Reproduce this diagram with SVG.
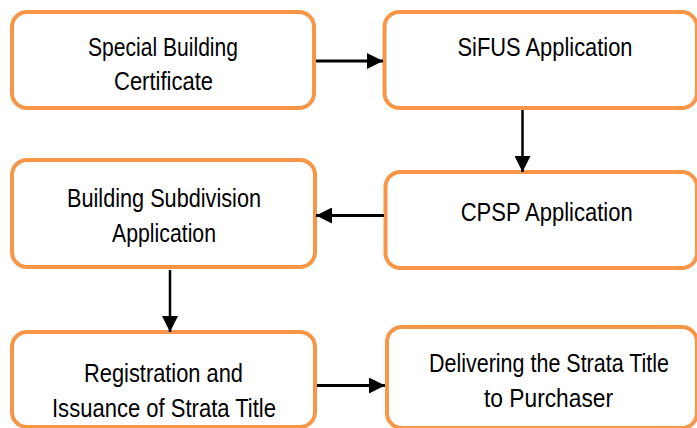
<svg xmlns="http://www.w3.org/2000/svg" width="697" height="428" viewBox="0 0 697 428">
<style>
.box{fill:#fff;stroke:#F79646;stroke-width:4}
.lbl{font-family:"Liberation Sans Narrow","Liberation Sans",Arial,sans-serif;font-size:26px;fill:#000;text-anchor:middle}
.con{stroke:#000;stroke-width:3;fill:none}
.conv{stroke:#000;stroke-width:2.5;fill:none}
</style>
<defs>
<marker id="ah" markerUnits="userSpaceOnUse" markerWidth="16" markerHeight="16" refX="16" refY="8" orient="auto" viewBox="0 0 16 16">
<path d="M0,0 L16,8 L0,16 z" fill="#000"/>
</marker>
</defs>
<rect width="697" height="428" fill="#fff"/>
<g id="n1"><rect class="box" x="12" y="12" width="302" height="96" rx="15"/>
<text class="lbl" x="163" y="56" textLength="150" lengthAdjust="spacingAndGlyphs">Special Building</text>
<text class="lbl" x="163.5" y="90" textLength="99" lengthAdjust="spacingAndGlyphs">Certificate</text></g>
<g id="n2"><rect class="box" x="384.5" y="12" width="312.5" height="96" rx="15"/>
<text class="lbl" x="545" y="56" textLength="175" lengthAdjust="spacingAndGlyphs">SiFUS Application</text></g>
<g id="n3"><rect class="box" x="385.5" y="172" width="311.5" height="96" rx="15"/>
<text class="lbl" x="546.7" y="221" textLength="172" lengthAdjust="spacingAndGlyphs">CPSP Application</text></g>
<g id="n4"><rect class="box" x="12" y="160" width="303" height="107" rx="15"/>
<text class="lbl" x="164" y="207" textLength="194" lengthAdjust="spacingAndGlyphs">Building Subdivision</text>
<text class="lbl" x="164" y="242" textLength="104" lengthAdjust="spacingAndGlyphs">Application</text></g>
<g id="n5"><rect class="box" x="12" y="332" width="303" height="95" rx="15"/>
<text class="lbl" x="163.5" y="381.5" textLength="159" lengthAdjust="spacingAndGlyphs">Registration and</text>
<text class="lbl" x="164" y="417" textLength="224" lengthAdjust="spacingAndGlyphs">Issuance of Strata Title</text></g>
<g id="n6"><rect class="box" x="387" y="327" width="310" height="101" rx="15"/>
<text class="lbl" x="549" y="371.5" textLength="240" lengthAdjust="spacingAndGlyphs">Delivering the Strata Title</text>
<text class="lbl" x="548.5" y="406.5" textLength="129" lengthAdjust="spacingAndGlyphs">to Purchaser</text></g>
<g id="connectors">
<line class="con" x1="316" y1="61" x2="383" y2="61" marker-end="url(#ah)"/>
<line class="conv" x1="522.5" y1="110" x2="522.5" y2="172" marker-end="url(#ah)"/>
<line class="con" x1="384" y1="215.5" x2="316" y2="215.5" marker-end="url(#ah)"/>
<line class="conv" x1="170" y1="270" x2="170" y2="332" marker-end="url(#ah)"/>
<line class="con" x1="317" y1="385.5" x2="385" y2="385.5" marker-end="url(#ah)"/>
</g>
</svg>
